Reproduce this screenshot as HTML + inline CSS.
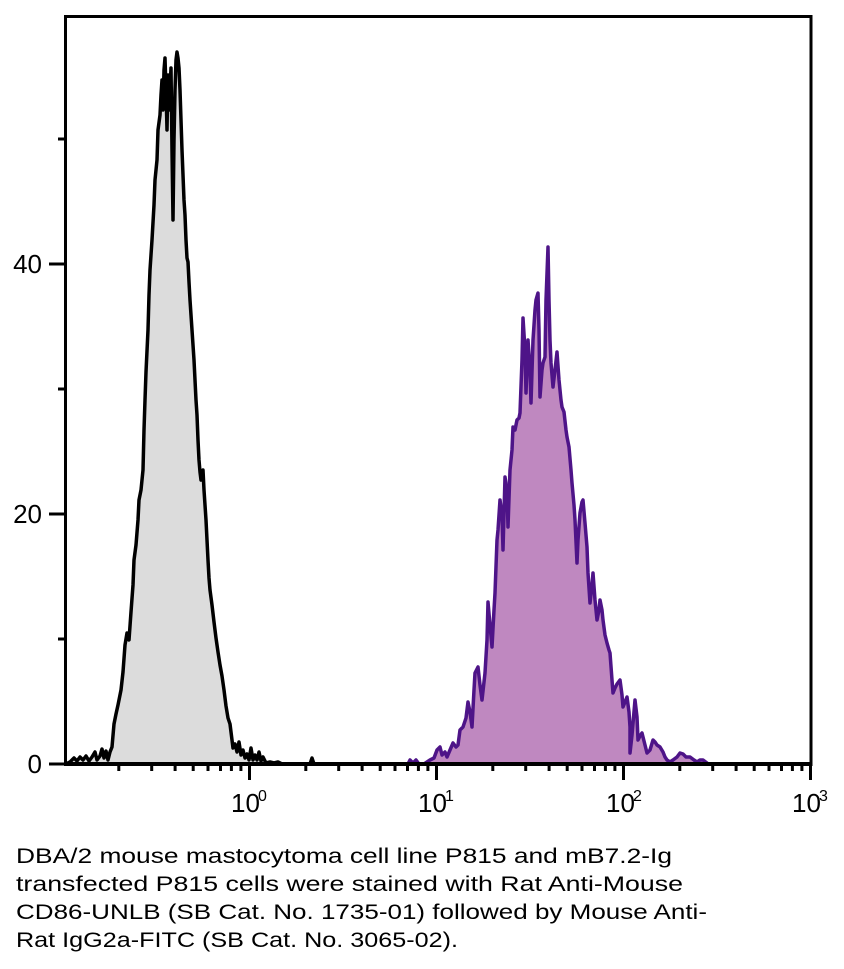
<!DOCTYPE html>
<html>
<head>
<meta charset="utf-8">
<style>
html,body{margin:0;padding:0;background:#fff;}
svg{display:block;}
text{font-family:"Liberation Sans",Arial,sans-serif;fill:#000;}
</style>
</head>
<body>
<svg width="844" height="969" viewBox="0 0 844 969" xmlns="http://www.w3.org/2000/svg">
<rect width="844" height="969" fill="#fff"/>

<!-- gray histogram -->
<polygon fill="#DCDCDC" stroke="none" points="66,764 70,762 74,758 77,761 80,757 83,760 86,756 89,761 92,757 95,752 97,760 100,756 102,749 104,758 106,751 108,760 110,752 112,747 114,724 116,714 118,705 119,700 121,690 123,672 125,645 127,633 129,640 131,612 133,585 134,560 136,545 138,520 139,500 141,490 143,470 144,430 145,400 146,372 148,330 149,295 150,270 152,240 154,205 155,180 157,160 158,130 160,115 161,95 162,80 163,110 164,70 165,58 166,90 167,130 168,75 169,110 170,88 171,68 172,150 173,220 174,140 175,90 176,60 177,52 178,58 179,68 180,90 181,120 182,150 183,175 184,200 185,215 186,240 187,258 188,262 189,282 190,300 192,330 194,360 195,380 196,400 197,415 198,440 199,460 200,472 201,480 203,470 204,490 205,505 206,520 207,540 208,560 209,578 210,590 212,605 214,622 216,638 218,652 220,665 222,676 224,690 226,706 228,718 230,724 232,740 233,748 235,744 237,752 239,742 241,755 243,750 245,758 247,754 249,760 251,748 253,760 255,755 257,760 259,752 261,761 263,757 266,763 270,762 274,763 278,762 282,764"/>
<polyline fill="none" stroke="#000" stroke-width="3.5" stroke-linejoin="round" points="66,764 70,762 74,758 77,761 80,757 83,760 86,756 89,761 92,757 95,752 97,760 100,756 102,749 104,758 106,751 108,760 110,752 112,747 114,724 116,714 118,705 119,700 121,690 123,672 125,645 127,633 129,640 131,612 133,585 134,560 136,545 138,520 139,500 141,490 143,470 144,430 145,400 146,372 148,330 149,295 150,270 152,240 154,205 155,180 157,160 158,130 160,115 161,95 162,80 163,110 164,70 165,58 166,90 167,130 168,75 169,110 170,88 171,68 172,150 173,220 174,140 175,90 176,60 177,52 178,58 179,68 180,90 181,120 182,150 183,175 184,200 185,215 186,240 187,258 188,262 189,282 190,300 192,330 194,360 195,380 196,400 197,415 198,440 199,460 200,472 201,480 203,470 204,490 205,505 206,520 207,540 208,560 209,578 210,590 212,605 214,622 216,638 218,652 220,665 222,676 224,690 226,706 228,718 230,724 232,740 233,748 235,744 237,752 239,742 241,755 243,750 245,758 247,754 249,760 251,748 253,760 255,755 257,760 259,752 261,761 263,757 266,763 270,762 274,763 278,762 282,764 310,764 312,758 314,764"/>

<!-- purple histogram -->
<polygon fill="#BF88C0" stroke="none" points="408,764 410,760 413,763 416,760 419,764 424,764 427,762 430,760 434,758 437,750 440,747 442,755 445,752 447,757 450,750 453,743 456,747 458,745 460,730 463,727 466,718 468,702 470,712 472,727 474,690 475,673 478,667 480,685 482,700 485,673 487,640 488,602 490,625 492,647 494,610 495,593 497,540 498,530 500,500 502,515 503,550 505,477 507,490 508,527 510,470 512,450 513,427 515,430 517,420 519,418 520,413 522,360 523,318 525,350 526,393 528,340 530,370 531,403 533,340 535,310 536,300 538,293 539,330 540,397 542,370 543,363 545,357 546,300 548,247 549,300 550,340 551,363 553,387 555,370 557,352 559,380 561,400 562,407 564,412 566,430 567,437 569,447 571,470 572,483 574,505 575,520 577,563 578,540 580,513 582,502 583,500 585,523 587,547 588,573 590,603 592,585 593,573 595,600 597,620 599,610 600,600 602,610 603,620 605,635 607,643 609,650 610,653 612,680 613,693 615,688 617,684 620,680 622,695 623,707 625,702 627,697 629,712 630,727 630,753 632,735 635,700 637,717 638,740 640,736 642,733 645,745 647,753 650,750 653,740 655,742 657,745 660,747 663,752 665,757 667,760 670,762 673,760 677,757 680,753 683,754 686,757 690,757 694,760 697,762 700,760 703,760 707,763 708,764"/>
<polyline fill="none" stroke="#4E1488" stroke-width="3.5" stroke-linejoin="round" points="408,764 410,760 413,763 416,760 419,764 424,764 427,762 430,760 434,758 437,750 440,747 442,755 445,752 447,757 450,750 453,743 456,747 458,745 460,730 463,727 466,718 468,702 470,712 472,727 474,690 475,673 478,667 480,685 482,700 485,673 487,640 488,602 490,625 492,647 494,610 495,593 497,540 498,530 500,500 502,515 503,550 505,477 507,490 508,527 510,470 512,450 513,427 515,430 517,420 519,418 520,413 522,360 523,318 525,350 526,393 528,340 530,370 531,403 533,340 535,310 536,300 538,293 539,330 540,397 542,370 543,363 545,357 546,300 548,247 549,300 550,340 551,363 553,387 555,370 557,352 559,380 561,400 562,407 564,412 566,430 567,437 569,447 571,470 572,483 574,505 575,520 577,563 578,540 580,513 582,502 583,500 585,523 587,547 588,573 590,603 592,585 593,573 595,600 597,620 599,610 600,600 602,610 603,620 605,635 607,643 609,650 610,653 612,680 613,693 615,688 617,684 620,680 622,695 623,707 625,702 627,697 629,712 630,727 630,753 632,735 635,700 637,717 638,740 640,736 642,733 645,745 647,753 650,750 653,740 655,742 657,745 660,747 663,752 665,757 667,760 670,762 673,760 677,757 680,753 683,754 686,757 690,757 694,760 697,762 700,760 703,760 707,763 708,764"/>

<!-- frame -->
<rect x="65.5" y="16.5" width="745.5" height="747.5" fill="none" stroke="#000" stroke-width="3"/>
<line x1="64" y1="764" x2="812.5" y2="764" stroke="#000" stroke-width="4"/>

<!-- y ticks -->
<g stroke="#000" stroke-width="3">
<line x1="49" y1="764" x2="65" y2="764"/>
<line x1="49" y1="514" x2="65" y2="514"/>
<line x1="49" y1="264" x2="65" y2="264"/>
<line x1="58" y1="639" x2="65" y2="639"/>
<line x1="58" y1="389" x2="65" y2="389"/>
<line x1="58" y1="139" x2="65" y2="139"/>
</g>
<g font-size="26" text-anchor="end">
<text x="42" y="773">0</text>
<text x="42" y="523">20</text>
<text x="42" y="273">40</text>
</g>

<!-- x ticks -->
<g stroke="#000" stroke-width="3">
<line x1="249.5" y1="764" x2="249.5" y2="780"/>
<line x1="436.5" y1="764" x2="436.5" y2="780"/>
<line x1="623.5" y1="764" x2="623.5" y2="780"/>
<line x1="810.5" y1="764" x2="810.5" y2="780"/>
<g>
<line x1="118.8" y1="764" x2="118.8" y2="771"/><line x1="151.7" y1="764" x2="151.7" y2="771"/><line x1="175.1" y1="764" x2="175.1" y2="771"/><line x1="193.2" y1="764" x2="193.2" y2="771"/><line x1="208" y1="764" x2="208" y2="771"/><line x1="220.5" y1="764" x2="220.5" y2="771"/><line x1="231.4" y1="764" x2="231.4" y2="771"/><line x1="240.9" y1="764" x2="240.9" y2="771"/>
<line x1="305.8" y1="764" x2="305.8" y2="771"/><line x1="338.7" y1="764" x2="338.7" y2="771"/><line x1="362.1" y1="764" x2="362.1" y2="771"/><line x1="380.2" y1="764" x2="380.2" y2="771"/><line x1="395" y1="764" x2="395" y2="771"/><line x1="407.5" y1="764" x2="407.5" y2="771"/><line x1="418.4" y1="764" x2="418.4" y2="771"/><line x1="427.9" y1="764" x2="427.9" y2="771"/>
<line x1="492.8" y1="764" x2="492.8" y2="771"/><line x1="525.7" y1="764" x2="525.7" y2="771"/><line x1="549.1" y1="764" x2="549.1" y2="771"/><line x1="567.2" y1="764" x2="567.2" y2="771"/><line x1="582" y1="764" x2="582" y2="771"/><line x1="594.5" y1="764" x2="594.5" y2="771"/><line x1="605.4" y1="764" x2="605.4" y2="771"/><line x1="614.9" y1="764" x2="614.9" y2="771"/>
<line x1="679.8" y1="764" x2="679.8" y2="771"/><line x1="712.7" y1="764" x2="712.7" y2="771"/><line x1="736.1" y1="764" x2="736.1" y2="771"/><line x1="754.2" y1="764" x2="754.2" y2="771"/><line x1="769" y1="764" x2="769" y2="771"/><line x1="781.5" y1="764" x2="781.5" y2="771"/><line x1="792.4" y1="764" x2="792.4" y2="771"/><line x1="801.9" y1="764" x2="801.9" y2="771"/>
</g>
</g>
<g font-size="26">
<text x="231" y="812">10</text><text x="258" y="801" font-size="16">0</text>
<text x="418" y="812">10</text><text x="445" y="801" font-size="16">1</text>
<text x="606" y="812">10</text><text x="633" y="801" font-size="16">2</text>
<text x="792" y="812">10</text><text x="819" y="801" font-size="16">3</text>
</g>

<!-- caption -->
<g font-size="21.5">
<text x="16" y="863" textLength="656" lengthAdjust="spacingAndGlyphs">DBA/2 mouse mastocytoma cell line P815 and mB7.2-Ig</text>
<text x="16" y="891" textLength="667" lengthAdjust="spacingAndGlyphs">transfected P815 cells were stained with Rat Anti-Mouse</text>
<text x="16" y="919" textLength="691" lengthAdjust="spacingAndGlyphs">CD86-UNLB (SB Cat. No. 1735-01) followed by Mouse Anti-</text>
<text x="16" y="947" textLength="442" lengthAdjust="spacingAndGlyphs">Rat IgG2a-FITC (SB Cat. No. 3065-02).</text>
</g>
</svg>
</body>
</html>
